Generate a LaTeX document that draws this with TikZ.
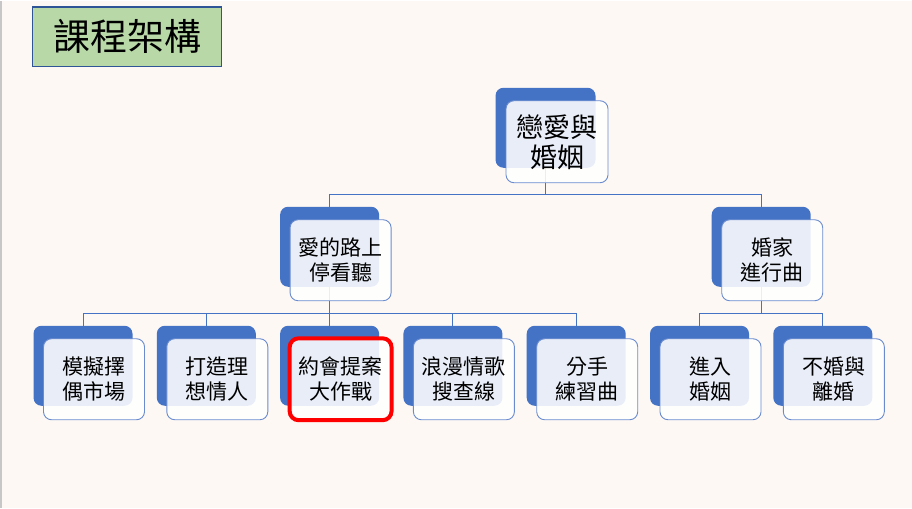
\documentclass[tikz,border=0pt]{standalone}
\usepackage{fontspec}
\newfontfamily\cjk{Noto Sans CJK TC}
\usepackage{tikz}
\usetikzlibrary{positioning,backgrounds}
\definecolor{ppblue}{HTML}{4472C4}
\definecolor{ppedge}{HTML}{6A8CCF}
\definecolor{pppage}{HTML}{FDF8F4}
\definecolor{ppgreen}{HTML}{B8D8A8}
\definecolor{ppnavy}{HTML}{2F5597}

\begin{document}
\begin{tikzpicture}[x=1pt,y=-1pt,
        cardback/.style = {fill=ppblue, rounded corners=8pt, minimum width=99pt, minimum height=80pt, inner sep=0pt},
        card/.style = {draw=ppedge, line width=0.9pt, fill=white, fill opacity=0.88, text opacity=1,
            rounded corners=8pt, minimum width=101pt, minimum height=81pt, inner sep=0pt,
            align=center, font=\cjk\fontsize{21}{25}\selectfont},
        bigcard/.style = {card, minimum width=102pt, minimum height=82pt, font=\cjk\fontsize{27}{30}\selectfont},
        titlebox/.style = {draw=ppnavy, line width=1.5pt, fill=ppgreen, minimum width=189pt, minimum height=59pt,
            font=\cjk\fontsize{37}{40}\selectfont},
        link/.style = {draw=ppblue, line width=1pt},
        hilite/.style = {draw=red, line width=4pt, rounded corners=9pt},
    ]
    % page
    \begin{pgfonlayer}{background}
        \fill[pppage] (0,0) rectangle (912,507);
    \end{pgfonlayer}
    \draw[black!22, line width=1.5pt] (0.75,0) -- (0.75,507);
    % title
    \node[titlebox] (title) at (127,36) {課程架構};
    % root
    \node[cardback, minimum width=100pt] (root-b) at (545.5,127) {};
    \node[bigcard] (root) at (557,141) {戀愛與\\婚姻};
    % level 2
    \node[cardback] (love-b) at (329.6,246) {};
    \node[card] (love) at (340.6,259.5) {愛的路上\\停看聽};
    \node[cardback] (home-b) at (761.2,246) {};
    \node[card] (home) at (772.2,259.5) {婚家\\進行曲};
    % level 3
    \foreach \i/\n/\t in {0/c1/模擬擇\\偶市場, 1/c2/打造理\\想情人, 2/c3/約會提案\\大作戰,
            3/c4/浪漫情歌\\搜查線, 4/c5/分手\\練習曲, 5/c6/進入\\婚姻, 6/c7/不婚與\\離婚} {
        \node[cardback] (\n-b) at ({83+123.3*\i},365) {};
        \node[card] (\n) at ({94+123.3*\i},378.5) {\t};
    }
    \draw[hilite] (c3.south west) rectangle (c3.north east);
    % connectors
    \coordinate (bus1) at (0,194);
    \coordinate (bus2) at (0,313);
    \begin{pgfonlayer}{background}
        \draw[link] (root-b.south) -- (root-b |- bus1);
        \draw[link] (love-b.north) |- (home-b |- bus1) -- (home-b.north);
        \draw[link] (love-b.south) -- (c3-b.north);
        \draw[link] (c1-b.north) |- (c5-b |- bus2) -- (c5-b.north);
        \draw[link] (c2-b.north) -- (c2-b |- bus2);
        \draw[link] (c4-b.north) -- (c4-b |- bus2);
        \draw[link] (home-b.south) -- (home-b |- bus2);
        \draw[link] (c6-b.north) |- (c7-b |- bus2) -- (c7-b.north);
    \end{pgfonlayer}
\end{tikzpicture}
\end{document}
